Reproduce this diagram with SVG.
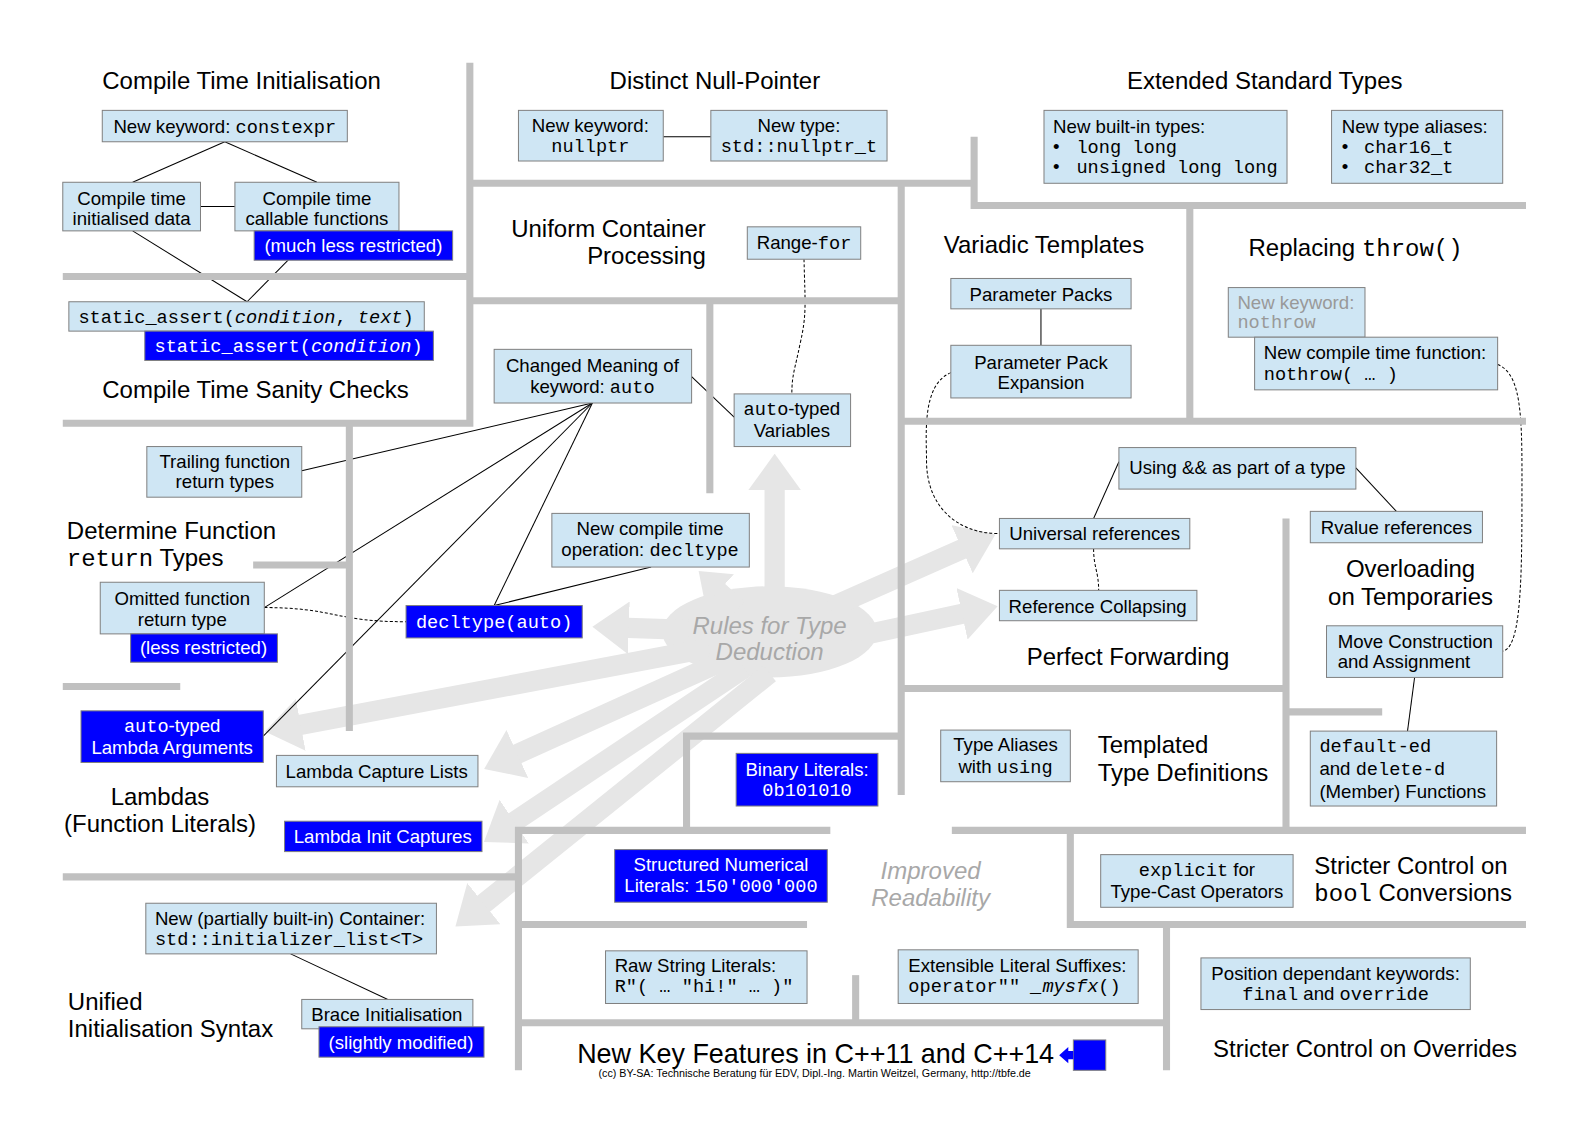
<svg xmlns="http://www.w3.org/2000/svg" width="1587" height="1123" viewBox="0 0 1587 1123">
<style>
.box{fill:#cfe6f4;stroke:#808080;stroke-width:1}
.bb{fill:#0000ff;stroke:#808080;stroke-width:1}
text{font-family:"Liberation Sans",Arial,sans-serif;font-size:18.4px;fill:#000}
.w{fill:#fff}
.g{fill:#999}
.m{font-family:"Liberation Mono","DejaVu Sans Mono",monospace}
.i{font-style:italic}
.ti{font-size:23.7px}
.soft{font-size:23.7px;font-style:italic;fill:#a8a8a8}
.c{text-anchor:middle}
.e{text-anchor:end}
.wall{fill:none;stroke:#c0c0c0;stroke-width:7}
.conn{fill:none;stroke:#000;stroke-width:1}
.dash{stroke-dasharray:3,2}
.big{fill:none;stroke:#e6e6e6;stroke-width:20;marker-end:url(#head)}
</style>
<defs>
<marker id="head" markerUnits="userSpaceOnUse" markerWidth="36" markerHeight="52" viewBox="0 0 36 52" refX="1" refY="26" orient="auto">
<path d="M0,0 L36,26 L0,52 Z" fill="#e6e6e6"/>
</marker>
<marker id="headS" markerUnits="userSpaceOnUse" markerWidth="28" markerHeight="42" viewBox="0 0 28 42" refX="1" refY="21" orient="auto">
<path d="M0,0 L28,21 L0,42 Z" fill="#e6e6e6"/>
</marker>
</defs>
<rect width="1587" height="1123" fill="#fff"/>
<g id="page" transform="scale(1.0126)">

<g id="deduction-arrows">
<ellipse cx="760" cy="624" rx="106" ry="45" fill="#e6e6e6"/>
<path class="big" d="M765,590 L765,483"/>
<path d="M730,600 L710,582" fill="none" stroke="#e6e6e6" stroke-width="16" marker-end="url(#headS)"/>
<path class="big" d="M680,622 L620,620"/>
<path class="big" d="M700,640 L296,716"/>
<path class="big" d="M720,650 L510,745"/>
<path class="big" d="M735,660 L507,812"/>
<path class="big" d="M760,665 L477,893"/>
<path class="big" d="M820,600 L951,542"/>
<path class="big" d="M840,630 L951,606"/>
</g>

<g id="connectors">
<path class="conn" d="M222,140 L131,180"/>
<path class="conn" d="M222,140 L313,180"/>
<path class="conn" d="M198,204 L232,204"/>
<path class="conn" d="M131,228 L244,298"/>
<path class="conn" d="M313,228 L244,298"/>
<path class="conn" d="M655,135 L702,135"/>
<path class="conn" d="M1028,305 L1028,341"/>
<path class="conn dash" d="M794,256 C795,300 797,310 790,340 C785,365 782,370 782,389"/>
<path class="conn" d="M683,372 L725,412"/>
<path class="conn" d="M585,398 L298,465"/>
<path class="conn" d="M585,398 L261,600"/>
<path class="conn" d="M585,398 L260,727"/>
<path class="conn" d="M585,398 L488,598"/>
<path class="conn" d="M643,560 L488,598"/>
<path class="conn dash" d="M261,600 C330,600 330,614 401,614"/>
<path class="conn dash" d="M939,368 C910,380 915,430 915,455 C915,500 945,527 987,527"/>
<path class="conn dash" d="M1479,360 C1505,370 1503,420 1503,500 C1503,590 1500,640 1484,643"/>
<path class="conn" d="M1105,456 L1080,512"/>
<path class="conn" d="M1339,462 L1379,505"/>
<path class="conn dash" d="M1080,542 C1080,560 1085,565 1085,583"/>
<path class="conn" d="M1397,669 L1390,722"/>
<path class="conn" d="M287,942 L383,987"/>
</g>

<g id="walls">
<path class="wall" d="M464,62 V418 H62"/>
<path class="wall" d="M62,273 H464"/>
<path class="wall" d="M464,181 H962"/>
<path class="wall" d="M962,135 V203 H1507"/>
<path class="wall" d="M464,297 H890"/>
<path class="wall" d="M890,181 V785"/>
<path class="wall" d="M701,297 V487"/>
<path class="wall" d="M890,416 H1507"/>
<path class="wall" d="M1175,203 V416"/>
<path class="wall" d="M890,680 H1270"/>
<path class="wall" d="M1270,512 V818"/>
<path class="wall" d="M1270,703 H1365"/>
<path class="wall" d="M678,818 V727 H890"/>
<path class="wall" d="M512,1057 V820 H820"/>
<path class="wall" d="M940,820 H1507"/>
<path class="wall" d="M1057,820 V913 H1507"/>
<path class="wall" d="M1152,913 V1057"/>
<path class="wall" d="M512,913 H797"/>
<path class="wall" d="M512,1010 H1152"/>
<path class="wall" d="M845,963 V1010"/>
<path class="wall" d="M62,866 H512"/>
<path class="wall" d="M345,418 V722"/>
<path class="wall" d="M250,558 H345"/>
<path class="wall" d="M62,678 H178"/>
</g>

<g id="labels">
<text class="ti" x="101" y="88">Compile Time Initialisation</text>
<text class="ti c" x="706" y="88">Distinct Null-Pointer</text>
<text class="ti c" x="1249" y="88">Extended Standard Types</text>
<text class="ti e" x="697" y="234">Uniform Container</text>
<text class="ti e" x="697" y="261">Processing</text>
<text class="ti c" x="1031" y="250">Variadic Templates</text>
<text class="ti" x="1233" y="253">Replacing <tspan class="m">throw()</tspan></text>
<text class="ti" x="101" y="393">Compile Time Sanity Checks</text>
<text class="ti" x="66" y="532">Determine Function</text>
<text class="ti" x="66" y="559"><tspan class="m">return</tspan> Types</text>
<text class="ti c" x="1393" y="570">Overloading</text>
<text class="ti c" x="1393" y="597">on Temporaries</text>
<text class="ti c" x="1114" y="657">Perfect Forwarding</text>
<text class="ti" x="1084" y="744">Templated</text>
<text class="ti" x="1084" y="771">Type Definitions</text>
<text class="ti c" x="158" y="795">Lambdas</text>
<text class="ti c" x="158" y="822">(Function Literals)</text>
<text class="ti" x="1298" y="863">Stricter Control on</text>
<text class="ti" x="1298" y="890"><tspan class="m">bool</tspan> Conversions</text>
<text class="ti" x="67" y="997">Unified</text>
<text class="ti" x="67" y="1024">Initialisation Syntax</text>
<text class="ti c" x="1348" y="1044">Stricter Control on Overrides</text>
<text class="soft c" x="760" y="626">Rules for Type</text>
<text class="soft c" x="760" y="652">Deduction</text>
<text class="soft c" x="919" y="868">Improved</text>
<text class="soft c" x="919" y="895">Readability</text>
<text x="570" y="1050" style="font-size:26.6px">New Key Features in C++11 and C++14</text>
<text x="591" y="1064" style="font-size:10px" textLength="427" lengthAdjust="spacingAndGlyphs">(cc) BY-SA: Technische Beratung für EDV, Dipl.-Ing. Martin Weitzel, Germany, http://tbfe.de</text>
<rect x="1060" y="1027" width="32" height="30" class="bb"/>
<path d="M1060,1038 H1055 V1034 L1046,1042 L1055,1050 V1046 H1060 Z" fill="#0000ff"/>
</g>

<g id="n-constexpr"><rect class="box" x="101" y="109" width="242" height="31"/><text class="c" x="222" y="131">New keyword: <tspan class="m">constexpr</tspan></text></g>
<g id="n-ct-data"><rect class="box" x="62" y="180" width="136" height="48"/><text class="c" x="130" y="202">Compile time</text><text class="c" x="130" y="222">initialised data</text></g>
<g id="n-ct-func"><rect class="box" x="232" y="180" width="162" height="48"/><text class="c" x="313" y="202">Compile time</text><text class="c" x="313" y="222">callable functions</text></g>
<g id="n-much-less"><rect class="bb" x="251" y="228" width="196" height="29"/><text class="c w" x="349" y="249">(much less restricted)</text></g>
<g id="n-static-assert"><rect class="box" x="68" y="298" width="351" height="29"/><text class="c" x="243" y="319"><tspan class="m">static_assert(</tspan><tspan class="m i">condition</tspan><tspan class="m">, </tspan><tspan class="m i">text</tspan><tspan class="m">)</tspan></text></g>
<g id="n-static-assert1"><rect class="bb" x="143" y="327" width="285" height="29"/><text class="c w" x="285" y="348"><tspan class="m">static_assert(</tspan><tspan class="m i">condition</tspan><tspan class="m">)</tspan></text></g>

<g id="n-nullptr"><rect class="box" x="512" y="109" width="143" height="50"/><text class="c" x="583" y="130">New keyword:</text><text class="c m" x="583" y="150">nullptr</text></g>
<g id="n-nullptr-t"><rect class="box" x="702" y="109" width="174" height="50"/><text class="c" x="789" y="130">New type:</text><text class="c m" x="789" y="150">std::nullptr_t</text></g>
<g id="n-builtin"><rect class="box" x="1031" y="109" width="240" height="72"/><text x="1040" y="131">New built-in types:</text><text x="1040" y="151">•<tspan class="m" x="1063">long long</tspan></text><text x="1040" y="171">•<tspan class="m" x="1063">unsigned long long</tspan></text></g>
<g id="n-aliases"><rect class="box" x="1315" y="109" width="169" height="72"/><text x="1325" y="131">New type aliases:</text><text x="1325" y="151">•<tspan class="m" x="1347">char16_t</tspan></text><text x="1325" y="171">•<tspan class="m" x="1347">char32_t</tspan></text></g>

<g id="n-range-for"><rect class="box" x="738" y="224" width="112" height="32"/><text class="c" x="794" y="246">Range-<tspan class="m">for</tspan></text></g>
<g id="n-param-packs"><rect class="box" x="939" y="275" width="178" height="30"/><text class="c" x="1028" y="297">Parameter Packs</text></g>
<g id="n-pack-exp"><rect class="box" x="939" y="341" width="178" height="52"/><text class="c" x="1028" y="364">Parameter Pack</text><text class="c" x="1028" y="384">Expansion</text></g>
<g id="n-nothrow-kw"><rect class="box" x="1213" y="284" width="135" height="49"/><text class="g" x="1222" y="305">New keyword:</text><text class="g m" x="1222" y="324">nothrow</text></g>
<g id="n-nothrow-fn"><rect class="box" x="1239" y="333" width="240" height="52"/><text x="1248" y="355">New compile time function:</text><text class="m" x="1248" y="375">nothrow( … )</text></g>

<g id="n-auto"><rect class="box" x="488" y="345" width="195" height="53"/><text class="c" x="585" y="367">Changed Meaning of</text><text class="c" x="585" y="388">keyword: <tspan class="m">auto</tspan></text></g>
<g id="n-auto-var"><rect class="box" x="725" y="389" width="115" height="52"/><text class="c" x="782" y="410"><tspan class="m">auto</tspan>-typed</text><text class="c" x="782" y="432">Variables</text></g>
<g id="n-trailing"><rect class="box" x="145" y="441" width="153" height="50"/><text class="c" x="222" y="462">Trailing function</text><text class="c" x="222" y="482">return types</text></g>
<g id="n-using-rr"><rect class="box" x="1105" y="442" width="234" height="41"/><text class="c" x="1222" y="468">Using &amp;&amp; as part of a type</text></g>
<g id="n-universal"><rect class="box" x="987" y="512" width="188" height="30"/><text class="c" x="1081" y="533">Universal references</text></g>
<g id="n-rvalue"><rect class="box" x="1294" y="505" width="170" height="31"/><text class="c" x="1379" y="527">Rvalue references</text></g>
<g id="n-decltype"><rect class="box" x="545" y="507" width="195" height="53"/><text class="c" x="642" y="528">New compile time</text><text class="c" x="642" y="549">operation: <tspan class="m">decltype</tspan></text></g>
<g id="n-omitted"><rect class="box" x="99" y="575" width="162" height="51"/><text class="c" x="180" y="597">Omitted function</text><text class="c" x="180" y="618">return type</text></g>
<g id="n-less"><rect class="bb" x="129" y="626" width="145" height="28"/><text class="c w" x="201" y="646">(less restricted)</text></g>
<g id="n-decltype-auto"><rect class="bb" x="401" y="598" width="174" height="32"/><text class="c w m" x="488" y="620">decltype(auto)</text></g>
<g id="n-collapsing"><rect class="box" x="987" y="583" width="195" height="30"/><text class="c" x="1084" y="605">Reference Collapsing</text></g>
<g id="n-move"><rect class="box" x="1310" y="618" width="174" height="51"/><text x="1321" y="640">Move Construction</text><text x="1321" y="660">and Assignment</text></g>
<g id="n-lambda-args"><rect class="bb" x="80" y="702" width="180" height="51"/><text class="c w" x="170" y="723"><tspan class="m">auto</tspan>-typed</text><text class="c w" x="170" y="745">Lambda Arguments</text></g>
<g id="n-type-alias"><rect class="box" x="929" y="721" width="128" height="51"/><text class="c" x="993" y="742">Type Aliases</text><text class="c" x="993" y="763">with <tspan class="m">using</tspan></text></g>
<g id="n-binary"><rect class="bb" x="727" y="744" width="140" height="52"/><text class="c w" x="797" y="766">Binary Literals:</text><text class="c w m" x="797" y="786">0b101010</text></g>
<g id="n-default"><rect class="box" x="1294" y="722" width="184" height="74"/><text class="m" x="1303" y="743">default-ed</text><text x="1303" y="765">and <tspan class="m">delete-d</tspan></text><text x="1303" y="788">(Member) Functions</text></g>
<g id="n-capture"><rect class="box" x="273" y="746" width="199" height="31"/><text class="c" x="372" y="768">Lambda Capture Lists</text></g>
<g id="n-init-capture"><rect class="bb" x="281" y="811" width="195" height="30"/><text class="c w" x="378" y="833">Lambda Init Captures</text></g>
<g id="n-structured"><rect class="bb" x="607" y="839" width="210" height="52"/><text class="c w" x="712" y="860">Structured Numerical</text><text class="c w" x="712" y="881">Literals: <tspan class="m">150'000'000</tspan></text></g>
<g id="n-explicit"><rect class="box" x="1087" y="844" width="190" height="52"/><text class="c" x="1182" y="865"><tspan class="m">explicit</tspan> for</text><text class="c" x="1182" y="887">Type-Cast Operators</text></g>
<g id="n-init-list"><rect class="box" x="144" y="892" width="287" height="50"/><text x="153" y="913">New (partially built-in) Container:</text><text class="m" x="153" y="933">std::initializer_list&lt;T&gt;</text></g>
<g id="n-raw"><rect class="box" x="598" y="939" width="199" height="52"/><text x="607" y="960">Raw String Literals:</text><text class="m" x="607" y="980">R"( … "hi!" … )"</text></g>
<g id="n-suffix"><rect class="box" x="887" y="938" width="237" height="53"/><text x="897" y="960">Extensible Literal Suffixes:</text><text x="897" y="980"><tspan class="m">operator"" </tspan><tspan class="m i">_mysfx</tspan><tspan class="m">()</tspan></text></g>
<g id="n-position"><rect class="box" x="1186" y="946" width="266" height="51"/><text class="c" x="1319" y="968">Position dependant keywords:</text><text class="c" x="1319" y="988"><tspan class="m">final</tspan> and <tspan class="m">override</tspan></text></g>
<g id="n-brace"><rect class="box" x="298" y="987" width="169" height="29"/><text class="c" x="382" y="1008">Brace Initialisation</text></g>
<g id="n-slightly"><rect class="bb" x="315" y="1014" width="163" height="30"/><text class="c w" x="396" y="1036">(slightly modified)</text></g>
</g>
</svg>
